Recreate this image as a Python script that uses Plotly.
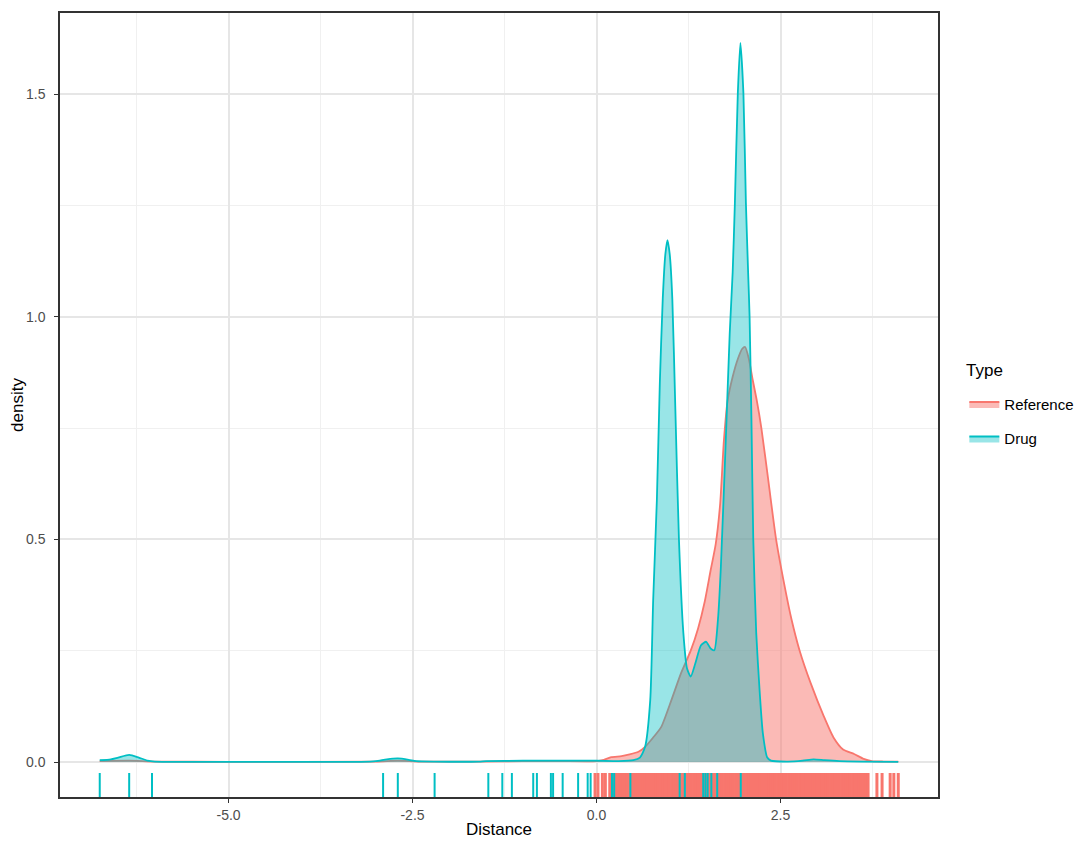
import plotly.graph_objects as go

# density curves
drug_x = [-6.75, -6.60, -6.50, -6.35, -6.22, -6.10, -6.00, -5.00, -3.20, -3.00, -2.85, -2.70,
          -2.55, -2.45, -2.20, -1.60, -1.50, -1.00, -0.50, 0.00, 0.30, 0.50, 0.59, 0.66, 0.73,
          0.77, 0.82, 0.86, 0.90, 0.935, 0.964, 0.995, 1.03, 1.07, 1.12, 1.18, 1.23, 1.28,
          1.34, 1.42, 1.49, 1.55, 1.60, 1.65, 1.69, 1.76, 1.81, 1.85, 1.88, 1.92, 1.955,
          1.996, 2.03, 2.06, 2.08, 2.105, 2.13, 2.17, 2.22, 2.26, 2.32, 2.37, 2.60, 2.80,
          2.95, 3.10, 3.30, 3.60, 4.10]
drug_y = [0.004, 0.006, 0.010, 0.016, 0.010, 0.003, 0.001, 0.0005, 0.0005, 0.002, 0.006, 0.008,
          0.005, 0.002, 0.001, 0.001, 0.002, 0.003, 0.003, 0.003, 0.002, 0.004, 0.010, 0.034, 0.139,
          0.364, 0.588, 0.85, 1.04, 1.14, 1.172, 1.14, 1.04, 0.80, 0.50, 0.29, 0.21, 0.192,
          0.22, 0.262, 0.270, 0.255, 0.251, 0.32, 0.439, 0.739, 0.963, 1.10, 1.255, 1.502, 1.615,
          1.502, 1.255, 1.10, 1.00, 0.77, 0.50, 0.29, 0.15, 0.065, 0.010, 0.003, 0.001, 0.003,
          0.006, 0.004, 0.002, 0.001, 0.0005]

ref_x = [-6.75, -6.35, -6.00, -5.00, -3.00, -2.70, -2.40, -1.60, -1.00, -0.50, 0.00, 0.10,
         0.20, 0.34, 0.45, 0.57, 0.66, 0.77, 0.88, 1.02, 1.15, 1.28, 1.38, 1.47, 1.55, 1.62,
         1.68, 1.73, 1.78, 1.85, 1.92, 1.98, 2.02, 2.07, 2.12, 2.18, 2.24, 2.34, 2.44, 2.55,
         2.65, 2.76, 2.91, 3.09, 3.22, 3.35, 3.50, 3.63, 3.74, 3.90, 4.10]
ref_y = [0.002, 0.003, 0.001, 0.0005, 0.001, 0.003, 0.001, 0.001, 0.002, 0.002, 0.002, 0.005,
         0.011, 0.013, 0.017, 0.023, 0.034, 0.055, 0.079, 0.14, 0.20, 0.25, 0.30, 0.36, 0.43, 0.49,
         0.58, 0.72, 0.81, 0.865, 0.905, 0.928, 0.932, 0.905, 0.86, 0.81, 0.75, 0.625, 0.50, 0.40,
         0.32, 0.25, 0.177, 0.102, 0.055, 0.028, 0.018, 0.007, 0.002, 0.001, 0.001]

# rug positions
drug_rug = [-6.75, -6.35, -6.04, -2.90, -2.70, -2.20, -1.47, -1.28, -1.15, -0.86, -0.81,
            -0.62, -0.59, -0.46, -0.25, -0.12, -0.08, 0.21, 0.24, 0.46, 1.13, 1.20, 1.45,
            1.48, 1.51, 1.56, 1.64, 1.96]
ref_rug = [-0.02, 0.02, 0.08, 0.12,
           0.18, 0.21, 0.24, 0.27, 0.30, 0.33, 0.36, 0.39, 0.42, 0.45,
           0.48, 0.51, 0.54, 0.57, 0.60, 0.63, 0.66, 0.69, 0.72, 0.75,
           0.78, 0.81, 0.84, 0.87, 0.90, 0.93, 0.96, 0.99, 1.02, 1.05,
           1.08, 1.11, 1.14, 1.17, 1.20, 1.23, 1.26, 1.29, 1.32, 1.35,
           1.38, 1.41, 1.44, 1.47, 1.50, 1.53, 1.56, 1.59, 1.62, 1.65,
           1.68, 1.71, 1.74, 1.77, 1.80, 1.83, 1.86, 1.89, 1.92, 1.95,
           1.98, 2.01, 2.04, 2.07, 2.10, 2.13, 2.16, 2.19, 2.22, 2.25,
           2.28, 2.31, 2.34, 2.37, 2.40, 2.43, 2.46, 2.49, 2.52, 2.55,
           2.58, 2.61, 2.64, 2.67, 2.70, 2.73, 2.76, 2.79, 2.82, 2.85,
           2.88, 2.91, 2.94, 2.97, 3.00, 3.03, 3.06, 3.09, 3.12, 3.15,
           3.18, 3.21, 3.24, 3.27, 3.30, 3.33, 3.36, 3.39, 3.42, 3.45,
           3.48, 3.51, 3.54, 3.57, 3.60, 3.63, 3.66, 3.69,
           3.81, 3.88, 3.99, 4.04, 4.10]

x_ticks = [-5.0, -2.5, 0.0, 2.5]
x_labels = ["-5.0", "-2.5", "0.0", "2.5"]
y_ticks = [0.0, 0.5, 1.0, 1.5]
y_labels = ["0.0", "0.5", "1.0", "1.5"]

RED = "#F8766D"
TEAL = "#00BFC4"
RUG_TOP, RUG_BOT = -0.0247, -0.0786


def rug_xy(vals):
    xs, ys = [], []
    for v in vals:
        xs += [v, v, None]
        ys += [RUG_TOP, RUG_BOT, None]
    return xs, ys


fig = go.Figure()
fig.add_trace(go.Scatter(x=ref_x, y=ref_y, mode="lines", name="Reference",
                         line=dict(color=RED, width=1.8, shape="spline", smoothing=0.6),
                         fill="tozeroy", fillcolor="rgba(248,118,109,0.5)",
                         legendgroup="ref"))
fig.add_trace(go.Scatter(x=drug_x, y=drug_y, mode="lines", name="Drug",
                         line=dict(color=TEAL, width=1.8, shape="spline", smoothing=0.6),
                         fill="tozeroy", fillcolor="rgba(0,191,196,0.4)",
                         legendgroup="drug"))

rx, ry = rug_xy(ref_rug)
fig.add_trace(go.Scatter(x=rx, y=ry, mode="lines", line=dict(color=RED, width=3),
                         showlegend=False, hoverinfo="skip"))
dx, dy = rug_xy(drug_rug)
fig.add_trace(go.Scatter(x=dx, y=dy, mode="lines", line=dict(color=TEAL, width=2),
                         showlegend=False, hoverinfo="skip"))

axis_common = dict(
    showline=True, mirror=True, linecolor="#333333", linewidth=1.5,
    ticks="outside", ticklen=4, tickcolor="#333333", tickwidth=1.2,
    gridcolor="#E6E6E6", gridwidth=1.5, zeroline=False, automargin=False,
    tickfont=dict(family="Liberation Sans", size=14, color="#4D4D4D"),
)

fig.update_xaxes(
    range=[-7.29, 4.64], tickvals=x_ticks, ticktext=x_labels,
    minor=dict(tickvals=[-6.25, -3.75, -1.25, 1.25, 3.75], showgrid=True,
               gridcolor="#F0F0F0", gridwidth=1, ticks=""),
    title=dict(text="Distance", font=dict(family="Liberation Sans", size=17, color="#000000"),
               standoff=2),
    **axis_common,
)
fig.update_yaxes(
    range=[-0.0786, 1.682], tickvals=y_ticks, ticktext=y_labels,
    ticklabelstandoff=6,
    minor=dict(tickvals=[0.25, 0.75, 1.25], showgrid=True,
               gridcolor="#F0F0F0", gridwidth=1, ticks=""),
    title=dict(text="density", font=dict(family="Liberation Sans", size=17, color="#000000"),
               standoff=0),
    **axis_common,
)

# legend title as a separate text so the gap to the keys matches ggplot
fig.add_annotation(text="Type", xref="paper", yref="paper", x=1.03, y=0.5434,
                   xanchor="left", yanchor="middle", showarrow=False,
                   font=dict(family="Liberation Sans", size=17, color="#000000"))

# page body adds an 8px offset, so the figure is sized to fit the window
fig.update_layout(
    width=1076, height=837,
    margin=dict(l=52, r=143, t=5, b=48),
    plot_bgcolor="white", paper_bgcolor="white",
    font=dict(family="Liberation Sans"),
    legend=dict(
        font=dict(size=15, color="#000000"),
        x=1.03, xanchor="left", y=0.522, yanchor="top",
        tracegroupgap=12, itemwidth=30,
    ),
)

fig.write_html("out.html")
